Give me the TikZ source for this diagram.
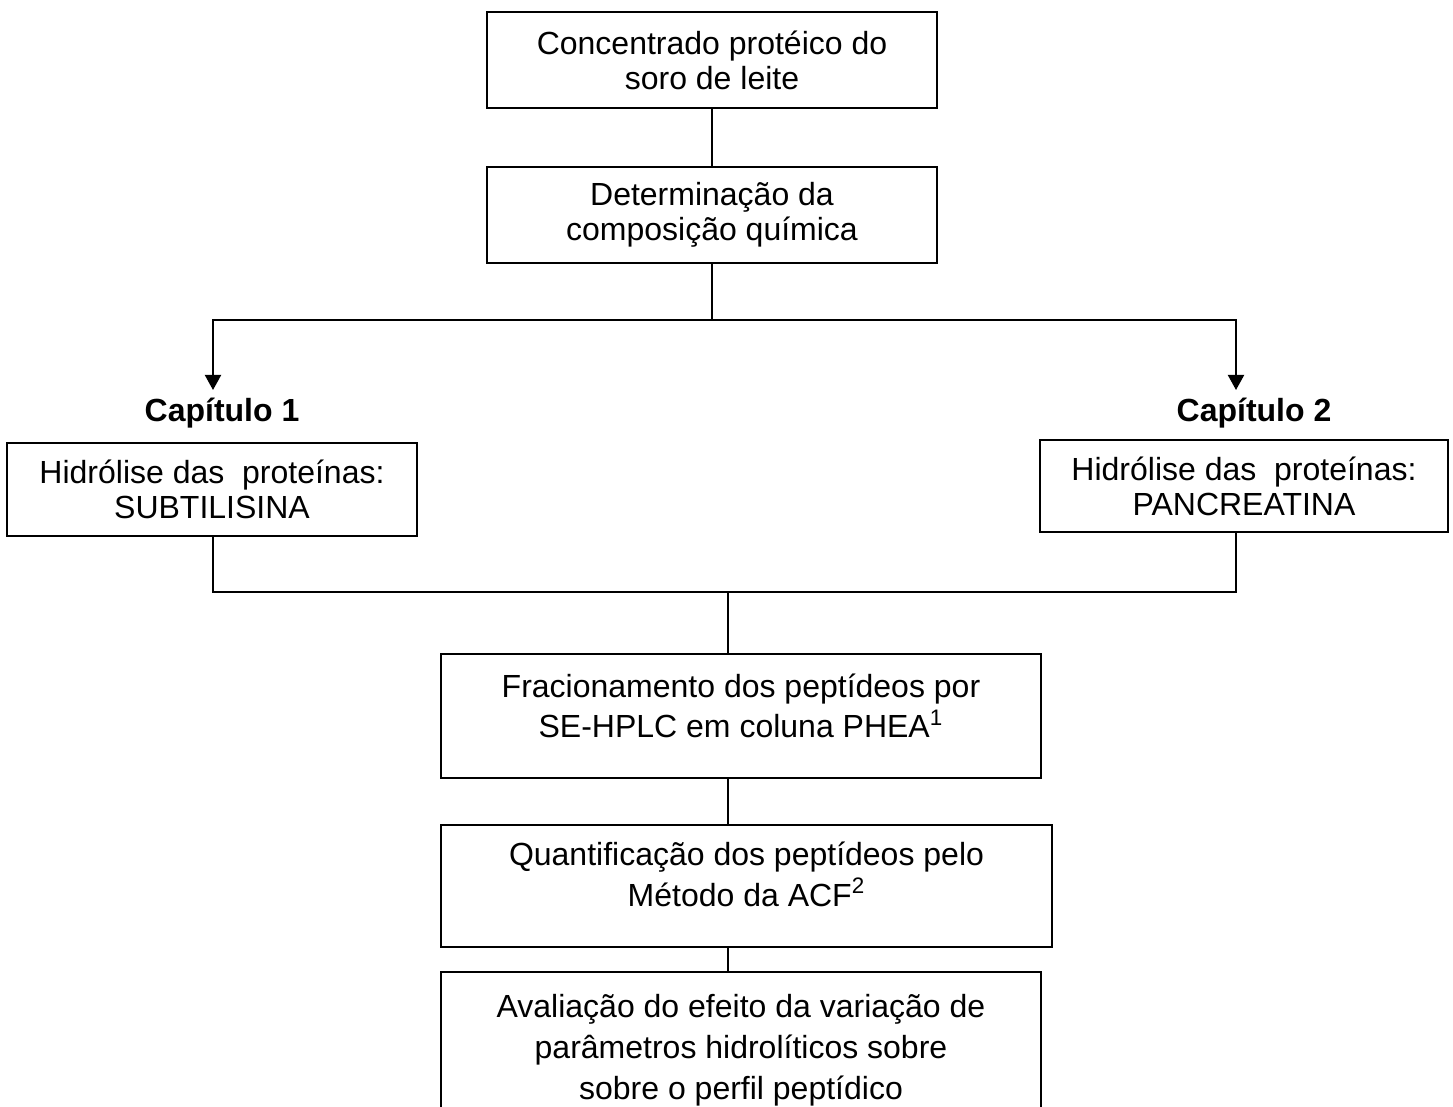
\documentclass[tikz,border=0pt]{standalone}
\usepackage{fontspec}
\setmainfont{Liberation Sans}
\usepackage{tikz}
\usetikzlibrary{arrows.meta, positioning, calc}

\newcommand{\textotopo}[4]{\parbox[c][#2][t]{#1}{\centering\vspace*{#3}\strut #4}}

\begin{document}
\begin{tikzpicture}[x=0.5pt, y=-0.5pt, node distance=28.5pt,
  etapa/.style={rectangle, draw, line width=1pt, align=center, inner sep=2pt,
    font=\fontsize{16}{17.5}\selectfont},
  etapatopo/.style={rectangle, draw, line width=1pt, inner sep=0pt,
    font=\fontsize{16}{17.5}\selectfont},
  capitulo/.style={font=\fontsize{16}{17.5}\selectfont\bfseries, anchor=base, inner sep=0pt},
  lin/.style={line width=1pt},
  arr/.style={-{Triangle[width=8pt, length=7.5pt]}, line width=1pt}]

  \useasboundingbox (0,0) rectangle (1453,1107);

  \node[etapa, minimum width=225pt, minimum height=48pt, anchor=north] (concentrado) at (712,11) {Concentrado protéico do\\soro de leite};
  \node[etapa, minimum width=225pt, minimum height=48pt, below=28.5pt of concentrado] (composicao) {Determinação da\\composição química};

  % os dois capitulos
  \node[capitulo] (cap1) at (222,422) {Capítulo 1};
  \node[capitulo] (cap2) at (1254,422) {Capítulo 2};
  \node[etapa, minimum width=205pt, minimum height=46.5pt] (subtilisina) at (212,489.5) {Hidrólise das~ proteínas:\\SUBTILISINA};
  \node[etapa, minimum width=204pt, minimum height=46pt] (pancreatina) at (1244,486) {Hidrólise das~ proteínas:\\PANCREATINA};

  \node[etapatopo, anchor=north] (fracionamento) at (741,653) {\textotopo{300pt}{62pt}{9.5pt}{Fracionamento dos peptídeos por\\SE-HPLC em coluna PHEA\textsuperscript{1}}};
  \node[etapatopo, below=22.5pt of fracionamento, xshift=2.75pt] (quantificacao) {\textotopo{305.5pt}{61pt}{8pt}{Quantificação dos peptídeos pelo\\Método da ACF\textsuperscript{2}}};
  \node[etapatopo, below=11.5pt of quantificacao, xshift=-2.75pt, font=\fontsize{16}{20.5}\selectfont] (avaliacao) {\textotopo{300pt}{80pt}{8.5pt}{Avaliação do efeito da variação de\\parâmetros hidrolíticos sobre\\sobre o perfil peptídico}};

  \coordinate (ramo) at (712,320);
  \coordinate (seta1) at (213,390);
  \coordinate (seta2) at (1236,390);
  \coordinate (juncao) at (728,592);

  \draw[lin] (concentrado) -- (composicao);
  \draw[lin] (composicao) -- (ramo);
  \draw[arr] (ramo) -| (seta1);
  \draw[arr] (ramo) -| (seta2);
  \draw[lin] (subtilisina.south -| seta1) |- (juncao);
  \draw[lin] (pancreatina.south -| seta2) |- (juncao);
  \draw[lin] (juncao) -- (juncao |- fracionamento.north);
  \draw[lin] (fracionamento.south -| juncao) -- (quantificacao.north -| juncao);
  \draw[lin] (quantificacao.south -| juncao) -- (avaliacao.north -| juncao);
\end{tikzpicture}
\end{document}
